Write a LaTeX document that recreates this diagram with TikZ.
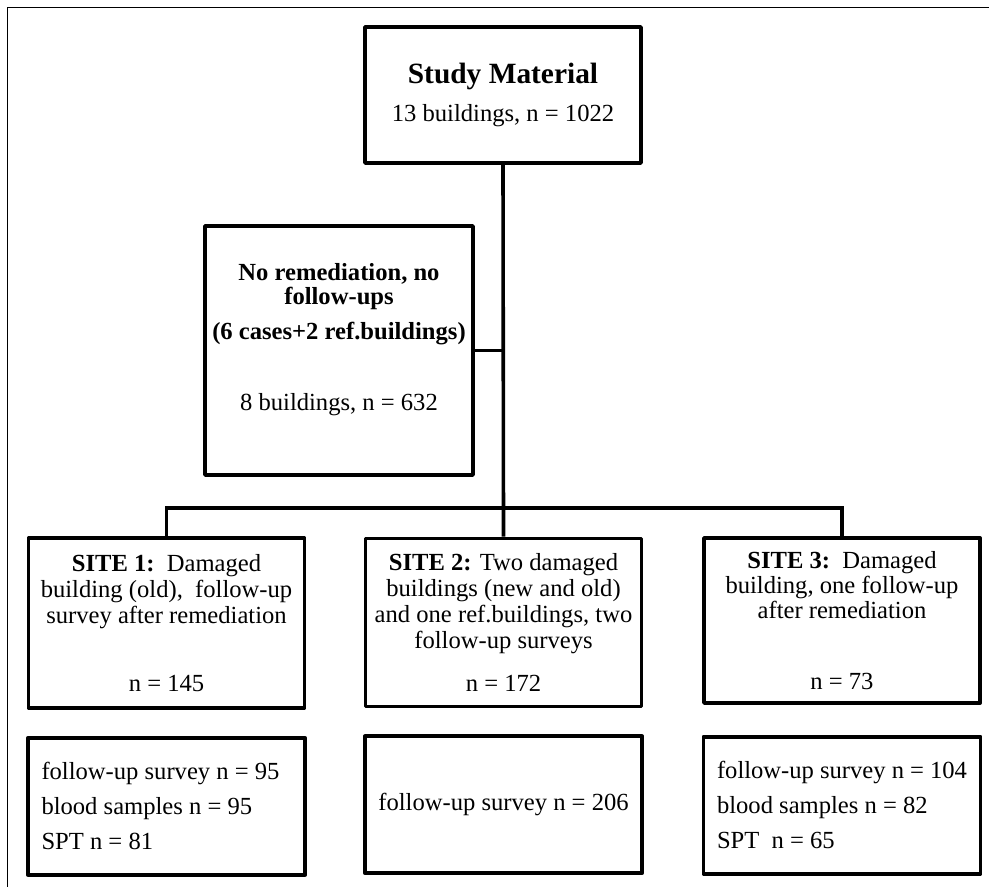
\documentclass[tikz,border=0pt]{standalone}
\usepackage{fontspec}
\setmainfont{Liberation Serif}
\usetikzlibrary{positioning}
\tikzset{
  boxnode/.style   = {draw, line width=1.9pt, line join=round, align=flush center,
                      inner sep=0pt, font=\fontsize{12.3}{13}\selectfont},
  sitenode/.style  = {boxnode, minimum width=138pt, minimum height=84pt},
  countnode/.style = {boxnode, minimum width=138.5pt, minimum height=68.5pt},
  listnode/.style  = {countnode, align=flush left, text width=125pt, inner xsep=6.75pt},
  link/.style      = {-, line width=1.8pt},
  frame/.style     = {-, line width=0.7pt},
}

\begin{document}
\begin{tikzpicture}[x=0.5pt, y=-0.5pt]
    \useasboundingbox (0,0) rectangle (989,887);
    \draw[frame] (7.5,887) -- (7.5,7.5) -- (989,7.5);
    \node[boxnode, minimum width=138pt, minimum height=68pt] (study) at (503,95)
      {\fontsize{14.7}{17}\selectfont\bfseries Study Material\\[6pt]
       13 buildings, n = 1022};
    \node[boxnode, minimum width=134pt, minimum height=124.5pt] (norem) at (339,350.5)
      {\textbf{No remediation, no}\\[-1pt]\textbf{follow-ups}\\[4.5pt]\textbf{(6 cases+2 ref.buildings)}\\[22.5pt]
       8 buildings, n = 632\rule[-13.5pt]{0pt}{13.5pt}};
    \node[sitenode, minimum height=85pt] (site1) at (166.5,623)
      {\textbf{SITE 1:}\ \ Damaged\\building (old),\ \ follow-up\\survey after remediation\\[21pt]n = 145};
    \node[sitenode] (site2) at (503.5,622.5)
      {\textbf{SITE 2:} Two damaged\\buildings (new and old)\\and one ref.buildings, two\\follow-up surveys\\[8.5pt]n = 172};
    \node[sitenode, minimum height=82.5pt] (site3) at (842,620.5)
      {\textbf{SITE 3:}\ \ Damaged\\[-0.5pt]building, one follow-up\\[-0.5pt]after remediation\\[22.5pt]n = 73};
    \node[listnode, below=13pt of site1] (fu1)
      {follow-up survey n = 95\\[4.5pt]blood samples n = 95\\[4.5pt]SPT n = 81};
    \node[countnode, below=13pt of site2] (fu2) {follow-up survey n = 206};
    \node[listnode, below=15pt of site3] (fu3)
      {follow-up survey n = 104\\[4.5pt]blood samples n = 82\\[4.5pt]SPT\ \ n = 65};
    \coordinate (bar) at (503.5,508);
    \draw[link] (study.south) -- (site2.north);
    \draw[link] (norem.east) -- (norem.east -| study.south);
    \draw[link] (site1.north) |- (bar) -| (site3.north);
  \end{tikzpicture}
\end{document}
